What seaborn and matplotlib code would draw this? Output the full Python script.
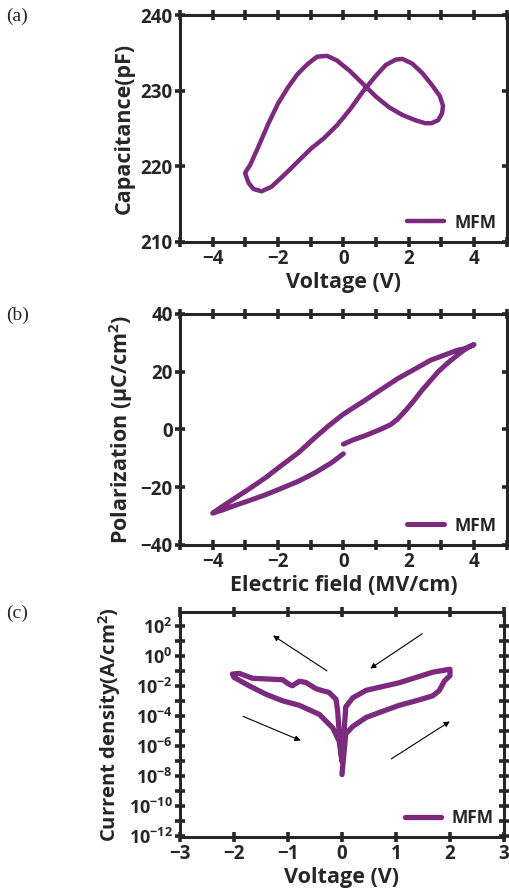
import numpy as np
import pandas as pd
import seaborn as sns
import matplotlib.pyplot as plt
from matplotlib.ticker import MultipleLocator, FixedLocator, NullFormatter

# (a) C-V loop
cv_voltage = [-3.0, -2.9, -2.75, -2.5, -2.2, -1.8, -1.4, -1.0, -0.6, -0.2, 0.2, 0.6, 1.0, 1.3, 1.6, 1.8,
              2.1, 2.4, 2.7, 2.95, 3.05, 3.02, 2.9, 2.7, 2.5, 2.2, 1.8, 1.4, 1.0, 0.6, 0.2, -0.2, -0.5,
              -0.8, -1.1, -1.4, -1.7, -2.0, -2.3, -2.6, -2.85, -3.0]
cv_cap = [219.0, 217.8, 217.0, 216.7, 217.3, 218.9, 220.6, 222.3, 223.7, 225.4, 227.5, 229.9, 232.0, 233.4,
          234.1, 234.2, 233.6, 232.4, 230.8, 229.3, 228.0, 227.0, 226.1, 225.7, 225.7, 226.1, 226.8, 227.8,
          229.2, 230.9, 232.6, 234.0, 234.6, 234.5, 233.5, 232.2, 230.4, 228.3, 225.6, 222.6, 220.2, 219.2]

# (b) P-E loop
pe_field = [0.0, 0.3, 0.65, 1.15, 1.45, 1.66, 1.9, 2.16, 2.4, 2.67, 2.9, 3.17, 3.45, 3.68, 3.85, 4.0,
            3.7, 3.47, 3.1, 2.67, 2.2, 1.66, 1.15, 0.65, 0.3, 0.0, -0.45, -0.87, -1.37, -1.9, -2.38,
            -2.9, -3.39, -3.75, -4.0, -3.7, -3.39, -2.9, -2.38, -1.9, -1.37, -0.87, -0.36, 0.0]
pe_pol = [-5.1, -3.6, -2.2, 0.1, 1.7, 3.6, 6.5, 10.0, 13.5, 17.0, 20.0, 22.8, 25.4, 27.4, 28.6, 29.4,
          28.0, 27.4, 25.8, 24.0, 21.0, 17.6, 13.8, 10.0, 7.5, 5.3, 1.3, -2.8, -8.0, -12.5, -16.7,
          -20.7, -24.3, -27.0, -29.0, -27.9, -26.6, -24.7, -22.6, -20.4, -17.9, -15.0, -11.5, -8.4]

# (c) J-V sweep (log10 of current density)
jv_voltage = [0.0, 0.07, 0.2, 0.45, 0.75, 1.06, 1.37, 1.68, 1.8, 1.9, 2.0, 2.0, 1.68, 1.06, 0.45, 0.2,
              0.07, 0.04, 0.0, -0.05, -0.17, -0.42, -0.79, -1.1, -1.41, -1.72, -2.0, -2.03, -1.9, -1.66,
              -1.1, -0.98, -0.92, -0.79, -0.67, -0.48, -0.36, -0.24, -0.11, -0.08, -0.05, 0.0]
jv_logj = [-7.9, -5.2, -4.7, -4.1, -3.7, -3.3, -3.0, -2.67, -2.33, -1.67, -1.33, -0.9, -1.1, -1.8, -2.3,
           -2.8, -3.4, -5.0, -7.0, -5.7, -4.8, -3.9, -3.3, -3.0, -2.56, -2.0, -1.44, -1.22, -1.18, -1.5,
           -1.6, -1.9, -2.0, -1.7, -1.78, -2.2, -2.33, -2.44, -2.9, -3.67, -5.2, -7.0]

# sweep-direction arrows in (c): (x_tail, logy_tail, x_head, logy_head)
jv_arrows = [(-0.235, -1.11, -1.32, 1.44),
             (1.53, 1.56, 0.48, -0.96),
             (-1.88, -3.96, -0.72, -5.71),
             (0.87, -6.96, 2.04, -4.27)]

purple = '#7b2a7e'

sns.set_style('ticks')
plt.rcParams['font.family'] = ['Open Sans', 'DejaVu Sans']
plt.rcParams['font.weight'] = 'bold'
plt.rcParams['mathtext.fontset'] = 'custom'
plt.rcParams['mathtext.rm'] = 'Open Sans:bold'
plt.rcParams['mathtext.bf'] = 'Open Sans:bold'

fig = plt.figure(figsize=(5.09, 8.88), dpi=100)
ax_a = fig.add_axes([0.3536, 0.7275, 0.642, 0.2556])
ax_b = fig.add_axes([0.3536, 0.3863, 0.642, 0.2601])
ax_c = fig.add_axes([0.3536, 0.0574, 0.6365, 0.2534])

df_a = pd.DataFrame({'V': cv_voltage, 'C': cv_cap})
df_b = pd.DataFrame({'E': pe_field, 'P': pe_pol})
df_c = pd.DataFrame({'V': jv_voltage, 'J': 10.0 ** np.array(jv_logj)})

sns.lineplot(data=df_a, x='V', y='C', sort=False, estimator=None, color=purple, lw=3.2, ax=ax_a, label='MFM')
sns.lineplot(data=df_b, x='E', y='P', sort=False, estimator=None, color=purple, lw=3.6, ax=ax_b, label='MFM')
sns.lineplot(data=df_c, x='V', y='J', sort=False, estimator=None, color=purple, lw=3.8, ax=ax_c, label='MFM')

ax_a.set_xlim(-5, 5)
ax_a.set_ylim(210, 240)
ax_a.set_xticks([-4, -2, 0, 2, 4])
ax_a.xaxis.set_minor_locator(MultipleLocator(1))
ax_a.set_yticks([210, 220, 230, 240])
ax_a.set_xlabel('Voltage (V)')
ax_a.set_ylabel('Capacitance(pF)')

ax_b.set_xlim(-5, 5)
ax_b.set_ylim(-40, 40)
ax_b.set_xticks([-4, -2, 0, 2, 4])
ax_b.xaxis.set_minor_locator(MultipleLocator(1))
ax_b.set_yticks([-40, -20, 0, 20, 40])
ax_b.set_xlabel('Electric field (MV/cm)')
ax_b.set_ylabel('Polarization (µC/cm$^2$)')

ax_c.set_yscale('log')
ax_c.set_xlim(-3, 3)
ax_c.set_ylim(10 ** -12.05, 10 ** 2.9)
ax_c.set_xticks([-3, -2, -1, 0, 1, 2, 3])
major = [10.0 ** e for e in range(-12, 3, 2)]
ax_c.yaxis.set_major_locator(FixedLocator(major))
ax_c.set_yticklabels([r'$\mathbf{10^{%d}}$' % e for e in range(-12, 3, 2)])
ax_c.yaxis.set_minor_locator(FixedLocator([10.0 ** e for e in range(-11, 3, 2)]))
ax_c.yaxis.set_minor_formatter(NullFormatter())
ax_c.set_xlabel('Voltage (V)')
for x0, y0, x1, y1 in jv_arrows:
    ax_c.annotate('', xy=(x1, 10 ** y1), xytext=(x0, 10 ** y0),
                  arrowprops=dict(arrowstyle='-|>', color='black', lw=0.8, mutation_scale=8))

for ax in (ax_a, ax_b, ax_c):
    for s in ax.spines.values():
        s.set_linewidth(2.2)
    ax.tick_params(which='both', direction='inout', top=True, right=True, length=6.5, width=2.6,
                   labelsize=13.5, pad=2)
    ax.xaxis.label.set_size(15.5)
    ax.yaxis.label.set_size(15.5)
    ax.xaxis.label.set_weight('bold')
    ax.yaxis.label.set_weight('bold')
    ax.xaxis.labelpad = 2
    for t in ax.get_xticklabels() + ax.get_yticklabels():
        t.set_fontweight('bold')
    ax.legend(loc='lower right', frameon=False, handlelength=2.1,
              borderaxespad=0.2, handletextpad=0.6, prop={'weight': 'bold', 'size': 12.5})

ax_c.tick_params(axis='y', labelsize=13)
ax_c.set_ylabel('Current density(A/cm$^2$)', size=14.6, weight='bold')

for ax, lab in ((ax_a, '(a)'), (ax_b, '(b)'), (ax_c, '(c)')):
    pos = ax.get_position()
    fig.text(0.012, pos.y1 - 0.002, lab, family='Liberation Serif', fontsize=14, weight='normal', va='center')

fig.savefig('out.png', dpi=100)
